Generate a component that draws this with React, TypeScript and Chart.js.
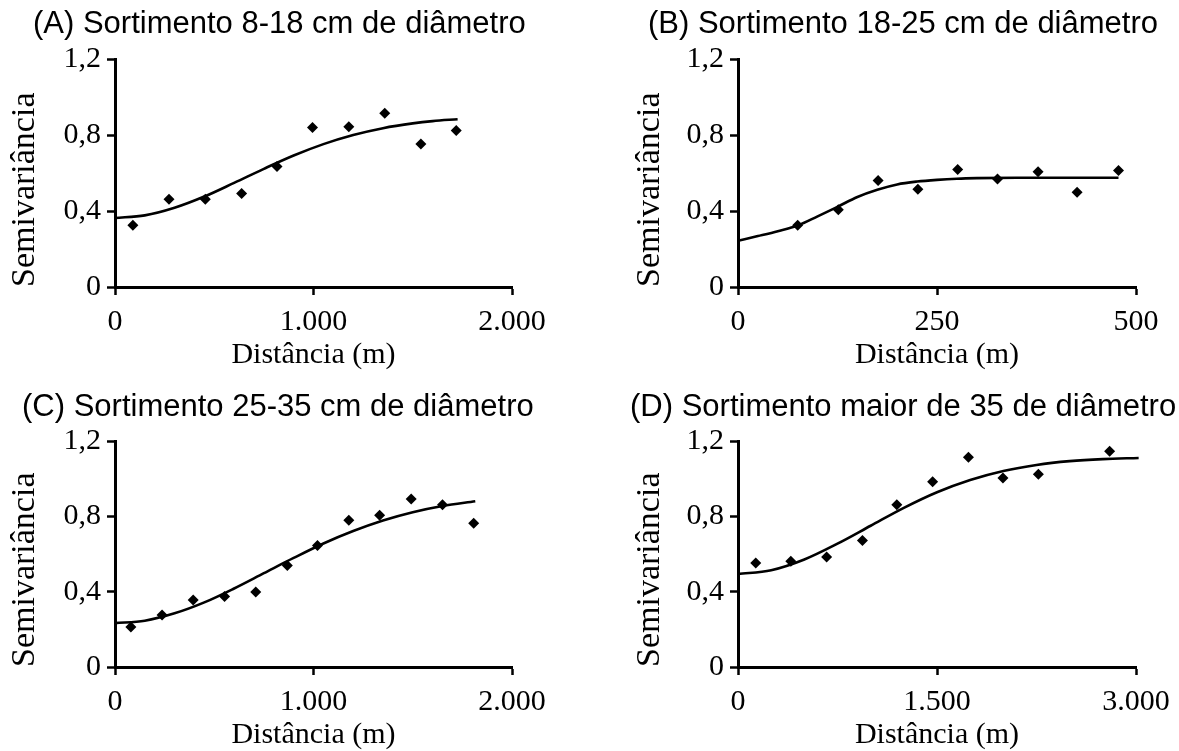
import React, { useEffect, useRef } from 'react';
import { Chart, registerables } from 'chart.js';

Chart.register(...registerables);

// ---------- Data ----------
// (A) 8-18 cm
const A_LAG = [90, 272, 455, 638, 816, 995, 1178, 1359, 1541, 1719];
const A_SEMIV = [0.325, 0.462, 0.462, 0.492, 0.634, 0.839, 0.844, 0.914, 0.753, 0.824];
const A_MODEL_X = [0, 150, 300, 450, 600, 750, 900, 1050, 1200, 1350, 1500, 1600, 1726];
const A_MODEL_Y = [0.363, 0.377, 0.417, 0.476, 0.548, 0.622, 0.692, 0.752, 0.8, 0.836, 0.861, 0.873, 0.883];

// (B) 18-25 cm
const B_LAG = [75, 126, 176, 226, 276, 326, 377, 426, 478];
const B_SEMIV = [0.325, 0.406, 0.56, 0.514, 0.618, 0.568, 0.607, 0.499, 0.613];
const B_MODEL_X = [0, 25, 50, 75, 100, 125, 150, 175, 200, 225, 250, 275, 300, 350, 400, 478];
const B_MODEL_Y = [0.243, 0.268, 0.294, 0.324, 0.372, 0.422, 0.474, 0.512, 0.54, 0.555, 0.564, 0.57, 0.573, 0.575, 0.575, 0.575];

// (C) 25-35 cm
const C_LAG = [80, 237, 394, 552, 709, 868, 1020, 1178, 1333, 1492, 1650, 1807];
const C_SEMIV = [0.213, 0.276, 0.356, 0.374, 0.398, 0.539, 0.645, 0.779, 0.806, 0.892, 0.862, 0.763];
const C_MODEL_X = [0, 150, 300, 450, 600, 750, 900, 1050, 1200, 1350, 1500, 1650, 1815];
const C_MODEL_Y = [0.233, 0.246, 0.285, 0.343, 0.417, 0.498, 0.579, 0.656, 0.722, 0.778, 0.822, 0.855, 0.88];

// (D) > 35 cm
const D_LAG = [134, 398, 668, 938, 1197, 1467, 1737, 1997, 2264, 2801];
const D_SEMIV = [0.552, 0.561, 0.584, 0.672, 0.862, 0.983, 1.114, 1.003, 1.023, 1.145];
const D_MODEL_X = [0, 250, 500, 750, 1000, 1250, 1500, 1750, 2000, 2250, 2500, 2750, 3020];
const D_MODEL_Y = [0.494, 0.514, 0.571, 0.655, 0.75, 0.845, 0.928, 0.993, 1.041, 1.073, 1.093, 1.104, 1.11];

const TITLES = [
  '(A) Sortimento 8-18 cm de diâmetro',
  '(B) Sortimento 18-25 cm de diâmetro',
  '(C) Sortimento 25-35 cm de diâmetro',
  '(D) Sortimento maior de 35 de diâmetro',
];
const X_MAX = [2000, 500, 2000, 3000];
const X_STEP = [1000, 250, 1000, 1500];
const Y_MAX = 1.2;
const Y_STEP = 0.4;
const X_TITLE = 'Distância (m)';
const Y_TITLE = 'Semivariância';

// ---------- Layout ----------
const SERIF = '"Liberation Serif", "Times New Roman", Times, serif';
const SANS = '"Liberation Sans", Arial, Helvetica, sans-serif';

type Layout = {
  left: number; top: number; width: number; height: number;
  plotLeft: number; plotRight: number; plotTop: number; xAxisH: number;
  titleX: number; titleY: number; yTitlePad: number;
};

const LAYOUTS: Layout[] = [
  { left: 0, top: 0, width: 590, height: 375, plotLeft: 115, plotRight: 512, plotTop: 59, xAxisH: 88, titleX: 33, titleY: 33, yTitlePad: 5 },
  { left: 590, top: 0, width: 589, height: 375, plotLeft: 148, plotRight: 546, plotTop: 59, xAxisH: 88, titleX: 58, titleY: 33, yTitlePad: 40 },
  { left: 0, top: 379, width: 590, height: 376, plotLeft: 115, plotRight: 512, plotTop: 62, xAxisH: 88, titleX: 22, titleY: 37, yTitlePad: 5 },
  { left: 590, top: 379, width: 589, height: 376, plotLeft: 148, plotRight: 546, plotTop: 62, xAxisH: 88, titleX: 40, titleY: 37, yTitlePad: 40 },
];

const SERIES = [
  { lag: A_LAG, semiv: A_SEMIV, mx: A_MODEL_X, my: A_MODEL_Y },
  { lag: B_LAG, semiv: B_SEMIV, mx: B_MODEL_X, my: B_MODEL_Y },
  { lag: C_LAG, semiv: C_SEMIV, mx: C_MODEL_X, my: C_MODEL_Y },
  { lag: D_LAG, semiv: D_SEMIV, mx: D_MODEL_X, my: D_MODEL_Y },
];

const fmtX = (v: number) => (v === 0 ? '0' : String(Math.round(v)).replace(/\B(?=(\d{3})+(?!\d))/g, '.'));
const fmtY = (v: number) => (Math.abs(v) < 1e-9 ? '0' : v.toFixed(1).replace('.', ','));

const panelTitle = {
  id: 'panelTitle',
  afterDraw(chart: any, _args: any, opts: any) {
    const ctx = chart.ctx;
    ctx.save();
    ctx.font = `31px ${SANS}`;
    ctx.fillStyle = '#000';
    ctx.textAlign = 'left';
    ctx.textBaseline = 'alphabetic';
    ctx.fillText(opts.text, opts.x, opts.y);
    ctx.restore();
  },
};

function Panel({ idx }: { idx: number }) {
  const ref = useRef<HTMLCanvasElement | null>(null);
  const L = LAYOUTS[idx];
  const S = SERIES[idx];

  useEffect(() => {
    if (!ref.current) return;
    const chart = new Chart(ref.current, {
      type: 'scatter',
      data: {
        datasets: [
          {
            label: 'observado',
            data: S.lag.map((x, i) => ({ x, y: S.semiv[i] })),
            pointStyle: 'rectRot',
            pointRadius: 5.5,
            backgroundColor: '#000',
            borderColor: '#000',
            borderWidth: 0,
            showLine: false,
          },
          {
            label: 'modelo',
            data: S.mx.map((x, i) => ({ x, y: S.my[i] })),
            showLine: true,
            pointRadius: 0,
            borderColor: '#000',
            borderWidth: 2.6,
            cubicInterpolationMode: 'monotone',
            fill: false,
            clip: false,
          } as any,
        ],
      },
      options: {
        animation: false,
        responsive: false,
        devicePixelRatio: 1,
        layout: { padding: { left: 0, top: L.plotTop, right: L.width - L.plotRight, bottom: 0 } },
        plugins: {
          legend: { display: false },
          tooltip: { enabled: false },
          panelTitle: { text: TITLES[idx], x: L.titleX, y: L.titleY },
        } as any,
        scales: {
          x: {
            type: 'linear',
            min: 0,
            max: X_MAX[idx],
            afterFit: (s: any) => { s.height = L.xAxisH; },
            border: { display: true, color: '#000', width: 3 },
            grid: { drawOnChartArea: false, drawTicks: true, tickLength: 8, tickColor: '#000', tickWidth: 2.5 },
            ticks: {
              stepSize: X_STEP[idx],
              color: '#000',
              padding: 9,
              maxRotation: 0,
              font: { family: SERIF, size: 30 },
              callback: (v: any) => fmtX(Number(v)),
            },
            title: {
              display: true,
              text: X_TITLE,
              color: '#000',
              font: { family: SERIF, size: 30 },
              padding: { top: 0, bottom: 2 },
            },
          },
          y: {
            type: 'linear',
            min: 0,
            max: Y_MAX,
            afterFit: (s: any) => { s.width = L.plotLeft; },
            border: { display: true, color: '#000', width: 3 },
            grid: { drawOnChartArea: false, drawTicks: true, tickLength: 8, tickColor: '#000', tickWidth: 2.5 },
            ticks: {
              stepSize: Y_STEP,
              color: '#000',
              padding: 6,
              font: { family: SERIF, size: 30 },
              callback: (v: any) => fmtY(Number(v)),
            },
            title: {
              display: true,
              text: Y_TITLE,
              color: '#000',
              align: 'start',
              font: { family: SERIF, size: 34 },
              padding: { top: L.yTitlePad, bottom: 0 },
            },
          },
        },
      } as any,
      plugins: [panelTitle],
    });
    return () => chart.destroy();
  }, [idx]);

  return (
    <canvas
      ref={ref}
      width={L.width}
      height={L.height}
      style={{ position: 'absolute', left: L.left, top: L.top, width: L.width, height: L.height }}
    />
  );
}

export default function App() {
  return (
    <div style={{ position: 'absolute', left: 0, top: 0, width: 1179, height: 751, overflow: 'hidden', background: '#fff' }}>
      {[0, 1, 2, 3].map((i) => (
        <Panel key={i} idx={i} />
      ))}
    </div>
  );
}
